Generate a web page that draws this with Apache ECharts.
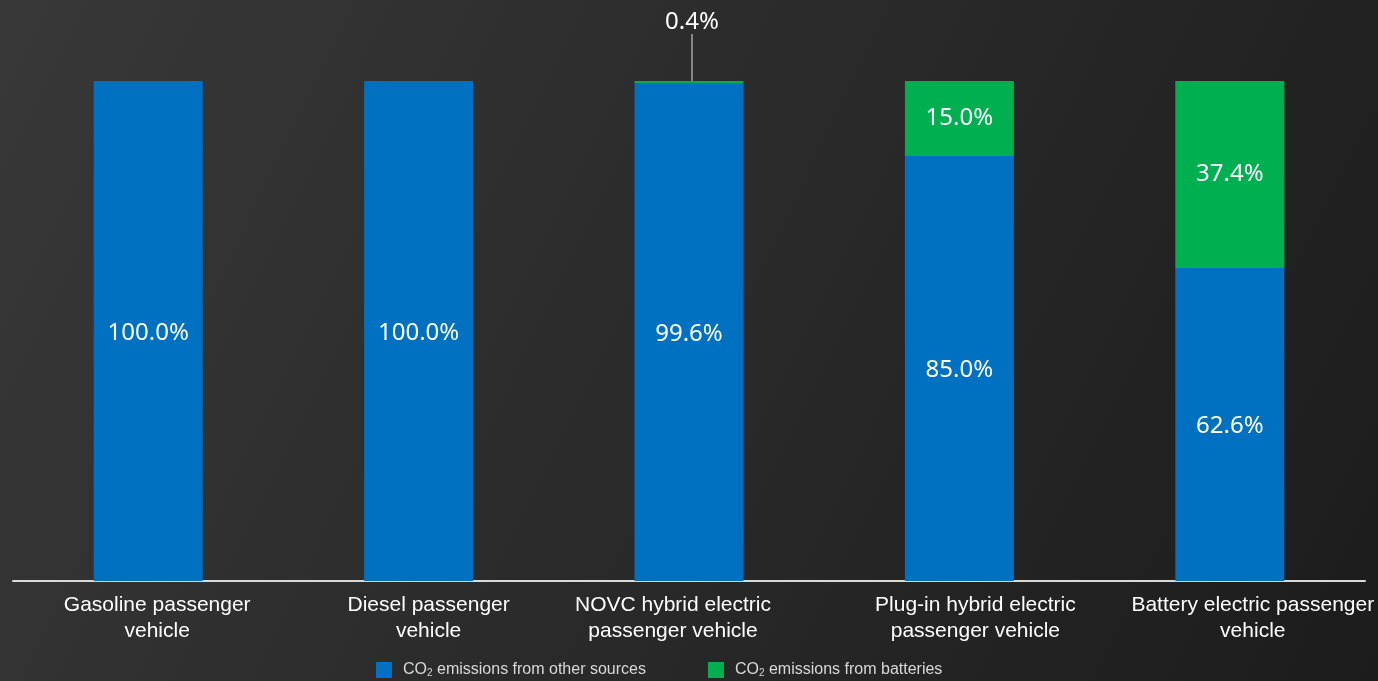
<!DOCTYPE html>
<html>
<head>
<meta charset="utf-8">
<title>CO2 emissions by source</title>
<script src="https://cdn.jsdelivr.net/npm/echarts@6/dist/echarts.min.js"></script>
<style>
  html, body { margin: 0; padding: 0; }
  #chart { width: 1378px; height: 681px; }
</style>
</head>
<body>
<div id="chart"></div>
<script>
// Vehicle types along the x axis
const categories = [
  'Gasoline passenger\nvehicle',
  'Diesel passenger\nvehicle',
  'NOVC hybrid electric\npassenger vehicle',
  'Plug-in hybrid electric\npassenger vehicle',
  'Battery electric passenger\nvehicle'
];
// Share of lifecycle CO2 emissions (%)
const otherSources = [100.0, 100.0, 99.6, 85.0, 62.6];
const batteries = [0, 0, 0.4, 15.0, 37.4];
const seriesNames = ['CO2 emissions from other sources', 'CO2 emissions from batteries'];

// small horizontal nudges so the two-line captions sit off-centre under their bars
const labelShift = [18, 20, -32, 32, 46];

const chart = echarts.init(document.getElementById('chart'));

const pct = v => v.toFixed(1) + '%';
const valueLabel = {
  show: true,
  position: 'inside',
  color: '#ffffff',
  fontFamily: 'Noto Sans',
  fontSize: 24,
  offset: [0, 2],
  formatter: p => (p.value > 0 ? pct(p.value) : '')
};

chart.setOption({
  backgroundColor: {
    type: 'linear', x: 0, y: 0, x2: 1, y2: 1,
    colorStops: [
      { offset: 0, color: '#383838' },
      { offset: 1, color: '#1c1c1c' }
    ]
  },
  animation: false,
  grid: { left: 13, right: 13, top: 81, bottom: 100, containLabel: false },
  legend: {
    left: 376,
    top: 662,
    padding: 0,
    itemWidth: 16,
    itemHeight: 16,
    itemGap: 62,
    icon: 'rect',
    data: seriesNames,
    formatter: name => name.replace('CO2', 'CO{sub|2}'),
    textStyle: {
      color: '#d9d9d9',
      fontFamily: 'Liberation Sans',
      fontSize: 16,
      padding: [0, 0, 0, 6],
      rich: {
        sub: { fontSize: 10, verticalAlign: 'bottom', padding: [7, 0, 0, 0], color: '#d9d9d9' }
      }
    }
  },
  xAxis: {
    type: 'category',
    data: categories.map((c, i) => ({
      value: c,
      textStyle: { padding: labelShift[i] >= 0 ? [0, 0, 0, labelShift[i]] : [0, -labelShift[i], 0, 0] }
    })),
    axisLine: { lineStyle: { color: '#d9d9d9', width: 2 } },
    axisTick: { show: false },
    axisLabel: {
      color: '#ffffff',
      fontFamily: 'Liberation Sans',
      fontSize: 21,
      lineHeight: 26,
      margin: 11,
      interval: 0
    }
  },
  yAxis: {
    type: 'value',
    min: 0,
    max: 100,
    show: false,
    splitLine: { show: false }
  },
  series: [
    {
      name: seriesNames[0],
      type: 'bar',
      stack: 'total',
      barWidth: 109,
      itemStyle: { color: '#0070C0' },
      label: valueLabel,
      data: otherSources
    },
    {
      name: seriesNames[1],
      type: 'bar',
      stack: 'total',
      barWidth: 109,
      itemStyle: { color: '#00B050' },
      label: valueLabel,
      labelLayout: p => (p.dataIndex === 2 ? { dx: 3, dy: -42 } : {}),
      data: batteries.map((v, i) => (i === 2
        ? { value: v, label: { position: 'top', distance: 5, offset: [0, 0] }, labelLine: { show: true, lineStyle: { color: '#a6a6a6', width: 1.5 } } }
        : v))
    }
  ]
});
</script>
</body>
</html>
